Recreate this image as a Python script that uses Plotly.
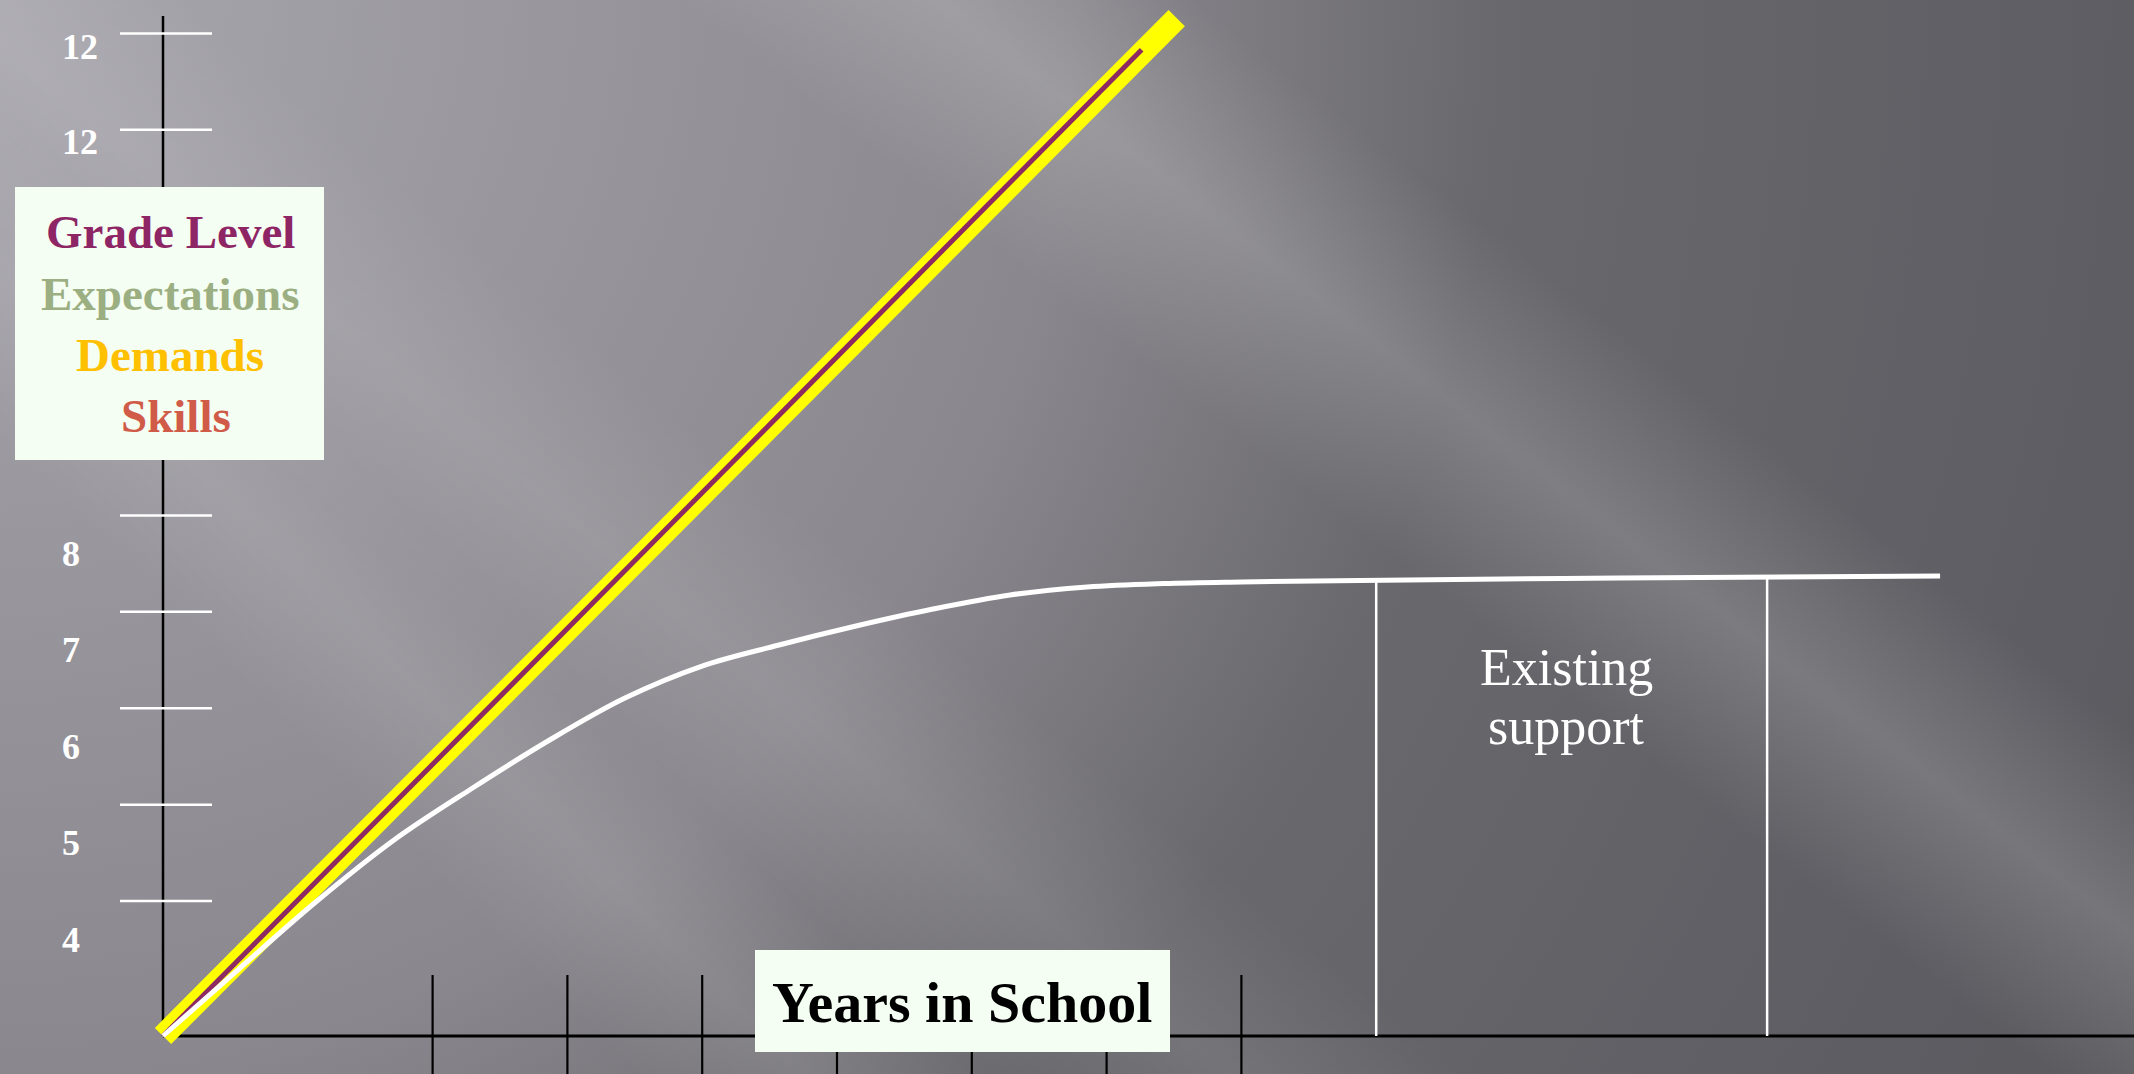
import base64
import numpy as np
import plotly.graph_objects as go

# ---------------- data ----------------
year_ticks = [2, 3, 4, 5, 6, 7, 8]
grade_ticks = [4.4, 5.4, 6.4, 7.4, 8.4, 9.4, 10.4, 11.4, 12.4, 13.4]
grade_label_text = ["4", "5", "6", "7", "8", "12", "12"]
grade_label_pos = [4.0, 5.0, 6.0, 7.0, 8.0, 12.27, 13.26]

demands_x = [0.0, 7.52]
demands_y = [3.0, 13.56]
grade_level_x = [0.0, 7.26]
grade_level_y = [3.0, 13.23]

skills_x = [0.0, 0.571, 1.142, 1.714, 2.285, 2.856, 3.427, 3.999, 4.57, 5.141,
            5.712, 6.284, 6.855, 7.426, 7.997, 8.88, 10.801, 13.183]
skills_y = [3.0, 3.705, 4.4, 5.033, 5.562, 6.06, 6.506, 6.838, 7.056, 7.253,
            7.429, 7.575, 7.658, 7.694, 7.71, 7.725, 7.751, 7.772]

support_bounds = [9.0, 11.9]

legend_lines = ["Grade Level", "Expectations", "Demands", "Skills"]
legend_colors = ["#8E2565", "#9BAF82", "#FFC000", "#D05B48"]

# ---------------- geometry ----------------
W, H = 2134, 1074
X0_PX, X_SCALE = 163.0, 134.8     # pixel of year 0, px per year
Y0_PX, Y_SCALE = 1036.0, 96.4     # pixel of grade 3, px per grade
Y_ORIGIN = 3.0
x_range = [(0 - X0_PX) / X_SCALE, (W - X0_PX) / X_SCALE]
y_range = [Y_ORIGIN - (H - Y0_PX) / Y_SCALE, Y_ORIGIN + Y0_PX / Y_SCALE]


def px(xp):
    return xp / W


def py(yp):
    return 1 - yp / H


# ---------------- background (svg gradient) ----------------
svg = f"""<svg xmlns='http://www.w3.org/2000/svg' width='{W}' height='{H}' viewBox='0 0 {W} {H}'>
<defs>
<radialGradient id='base' cx='0' cy='0' r='2380' gradientUnits='userSpaceOnUse'>
<stop offset='0' stop-color='#a9a7ae'/>
<stop offset='0.45' stop-color='#8a888e'/>
<stop offset='0.63' stop-color='#69686d'/>
<stop offset='0.9' stop-color='#5e5d63'/>
<stop offset='1' stop-color='#5b5a5f'/>
</radialGradient>
<linearGradient id='band' x1='0' y1='0' x2='0' y2='1'>
<stop offset='0' stop-color='#ffffff' stop-opacity='0'/>
<stop offset='0.5' stop-color='#ffffff' stop-opacity='0.16'/>
<stop offset='1' stop-color='#ffffff' stop-opacity='0'/>
</linearGradient>
<linearGradient id='band2' x1='0' y1='0' x2='0' y2='1'>
<stop offset='0' stop-color='#ffffff' stop-opacity='0'/>
<stop offset='0.5' stop-color='#ffffff' stop-opacity='0.09'/>
<stop offset='1' stop-color='#ffffff' stop-opacity='0'/>
</linearGradient>
</defs>
<rect x='0' y='0' width='{W}' height='{H}' fill='url(#base)'/>
<g transform='translate(1289,275) rotate(38)'><rect x='-3000' y='-160' width='6000' height='320' fill='url(#band)'/></g>
<g transform='translate(560,830) rotate(45)'><rect x='-3000' y='-120' width='6000' height='240' fill='url(#band2)'/></g>
<g transform='translate(250,250) rotate(40)'><rect x='-3000' y='-150' width='6000' height='300' fill='url(#band2)'/></g>
</svg>"""
bg_uri = "data:image/svg+xml;base64," + base64.b64encode(svg.encode()).decode()

fig = go.Figure()

# ---------------- traces ----------------
fig.add_trace(go.Scatter(x=demands_x, y=demands_y, mode="lines", name="Demands",
                         line=dict(color="#FFFF00", width=23), hoverinfo="skip"))
fig.add_trace(go.Scatter(x=grade_level_x, y=grade_level_y, mode="lines", name="Grade Level",
                         line=dict(color="#8E2A62", width=5), hoverinfo="skip"))
fig.add_trace(go.Scatter(x=skills_x, y=skills_y, mode="lines", name="Skills",
                         line=dict(color="#FFFFFF", width=5, shape="spline", smoothing=1.0),
                         hoverinfo="skip"))

shapes = []
# y axis line
shapes.append(dict(type="line", xref="x", yref="y", x0=0, x1=0, y0=Y_ORIGIN,
                   y1=Y_ORIGIN + (Y0_PX - 16) / Y_SCALE,
                   line=dict(color="black", width=2.5), layer="below"))
# x axis line
shapes.append(dict(type="line", xref="x", yref="y", x0=0, x1=x_range[1], y0=Y_ORIGIN, y1=Y_ORIGIN,
                   line=dict(color="black", width=3), layer="below"))
# y tick marks (white)
for g in grade_ticks:
    shapes.append(dict(type="line", xref="x", yref="y", xsizemode="pixel", xanchor=0,
                       x0=-43, x1=49, y0=g, y1=g,
                       line=dict(color="white", width=2.5), layer="below"))
# x tick marks (black)
for yr in year_ticks:
    shapes.append(dict(type="line", xref="x", yref="y", ysizemode="pixel", yanchor=Y_ORIGIN,
                       x0=yr, x1=yr, y0=-45, y1=61,
                       line=dict(color="black", width=2.2), layer="below"))
# existing support lines
for b in support_bounds:
    top = float(np.interp(b, skills_x, skills_y))
    shapes.append(dict(type="line", xref="x", yref="y", x0=b, x1=b, y0=Y_ORIGIN, y1=top,
                       line=dict(color="white", width=2.5), layer="below"))
# legend box
shapes.append(dict(type="rect", xref="paper", yref="paper", x0=px(15), x1=px(324),
                   y0=py(460), y1=py(187), fillcolor="#F5FEF3", line=dict(width=0), layer="above"))
# years in school box
shapes.append(dict(type="rect", xref="paper", yref="paper", x0=px(755), x1=px(1170),
                   y0=py(1052), y1=py(950), fillcolor="#F5FEF3", line=dict(width=0), layer="above"))

annotations = []
SERIF = "Liberation Serif, Times New Roman, serif"
for txt, val in zip(grade_label_text, grade_label_pos):
    annotations.append(dict(x=px(60), y=val, xref="paper", yref="y", text=f"<b>{txt}</b>",
                            showarrow=False, xanchor="left", yanchor="middle",
                            font=dict(family=SERIF, size=36, color="white")))
legend_centers_x = [170, 170, 170, 176]
legend_centers_y = [232.4, 294.1, 355.1, 416.1]
for txt, col, cx, cy in zip(legend_lines, legend_colors, legend_centers_x, legend_centers_y):
    annotations.append(dict(x=px(cx), y=py(cy), xref="paper", yref="paper", text=f"<b>{txt}</b>",
                            showarrow=False, xanchor="center", yanchor="middle",
                            font=dict(family=SERIF, size=47, color=col)))
annotations.append(dict(x=px(962), y=py(1002), xref="paper", yref="paper",
                        text="<b>Years in School</b>", showarrow=False,
                        xanchor="center", yanchor="middle",
                        font=dict(family=SERIF, size=58, color="black")))
annotations.append(dict(x=px(1566), y=py(667.5), xref="paper", yref="paper",
                        text="Existing", showarrow=False, xanchor="center", yanchor="middle",
                        font=dict(family=SERIF, size=52, color="white")))
annotations.append(dict(x=px(1566), y=py(726.5), xref="paper", yref="paper",
                        text="support", showarrow=False, xanchor="center", yanchor="middle",
                        font=dict(family=SERIF, size=52, color="white")))

fig.update_layout(
    width=W, height=H, autosize=False,
    margin=dict(l=0, r=0, t=0, b=0, pad=0),
    paper_bgcolor="#7a7980", plot_bgcolor="rgba(0,0,0,0)",
    showlegend=False,
    xaxis=dict(range=x_range, visible=False, fixedrange=True),
    yaxis=dict(range=y_range, visible=False, fixedrange=True),
    shapes=shapes, annotations=annotations,
    images=[dict(source=bg_uri, xref="paper", yref="paper", x=0, y=1, sizex=1, sizey=1,
                 xanchor="left", yanchor="top", sizing="stretch", layer="below")],
)

fig.write_html("out.html", config={"displayModeBar": False},
               post_script="document.body.style.margin='0';document.body.style.overflow='hidden';")
